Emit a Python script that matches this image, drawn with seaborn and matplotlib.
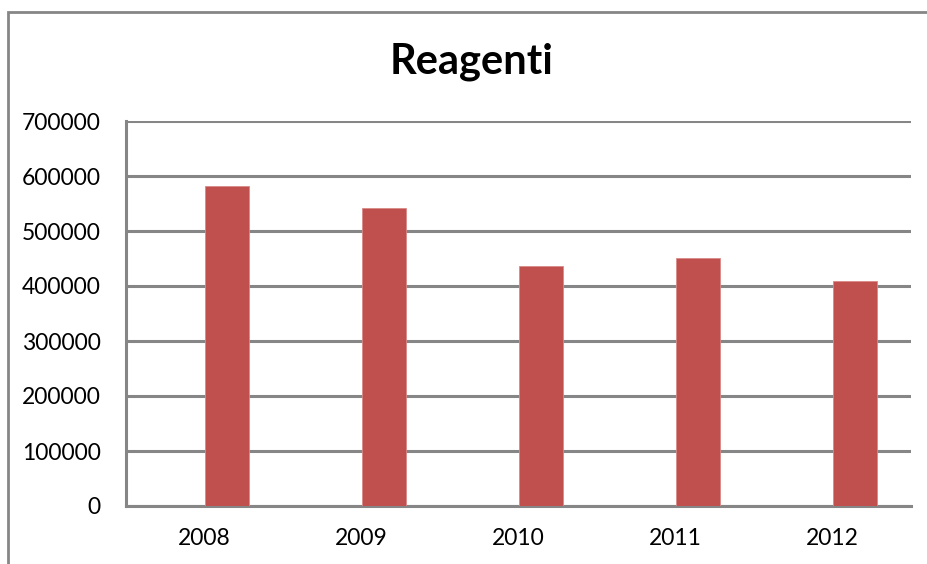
import pandas as pd
import numpy as np
import matplotlib.pyplot as plt
import seaborn as sns
from matplotlib.patches import Rectangle
from matplotlib.ticker import FuncFormatter

# --- data ---
years = ['2008', '2009', '2010', '2011', '2012']
reagenti = [581000, 542000, 437000, 451000, 409000]
series_names = ['Serie1', 'Reagenti']  # first series is empty in the original chart

df = pd.DataFrame({
    'Year': years * 2,
    'Value': [np.nan] * len(years) + reagenti,
    'Series': [series_names[0]] * len(years) + [series_names[1]] * len(years),
})

sns.set_style('white')
plt.rcParams['font.family'] = ['Lato', 'DejaVu Sans']
plt.rcParams['text.color'] = 'black'
plt.rcParams['xtick.labelcolor'] = 'black'
plt.rcParams['ytick.labelcolor'] = 'black'

grey = '#868686'
fig = plt.figure(figsize=(9.28, 5.64), dpi=100)
ax = fig.add_axes([126 / 928, 58 / 564, 785 / 928, 385 / 564])

sns.barplot(data=df, x='Year', y='Value', hue='Series', hue_order=series_names,
            palette=['#4F81BD', '#C0504D'], width=0.573, dodge=True,
            saturation=1, legend=False, ax=ax, zorder=3,
            edgecolor='#D88A88', linewidth=0.6)

ax.set_ylim(0, 700000)
ax.set_yticks(range(0, 700001, 100000))
ax.yaxis.set_major_formatter(FuncFormatter(lambda v, p: f'{int(v)}'))
ax.set_xlabel('')
ax.set_ylabel('')
ax.grid(axis='y', color=grey, linewidth=2.2, zorder=0)
ax.set_axisbelow(True)
for s in ['top', 'right']:
    ax.spines[s].set_visible(False)
for s in ['left', 'bottom']:
    ax.spines[s].set_color(grey)
    ax.spines[s].set_linewidth(2.2)
ax.tick_params(axis='y', length=2, color=grey, width=2, pad=16, labelsize=16.5)
ax.tick_params(axis='x', length=0, pad=16, labelsize=16.5)

fig.text(472 / 928, 1 - 62 / 564, 'Reagenti', ha='center', va='center',
         fontsize=30, fontweight='bold', color='black')

# chart area border (cut off on the right and bottom)
fig.patches.append(Rectangle((8 / 928, -0.2), 1.2, 1.2 - 12 / 564,
                             transform=fig.transFigure, fill=False,
                             edgecolor=grey, linewidth=2))

fig.savefig('out.png', dpi=100)
